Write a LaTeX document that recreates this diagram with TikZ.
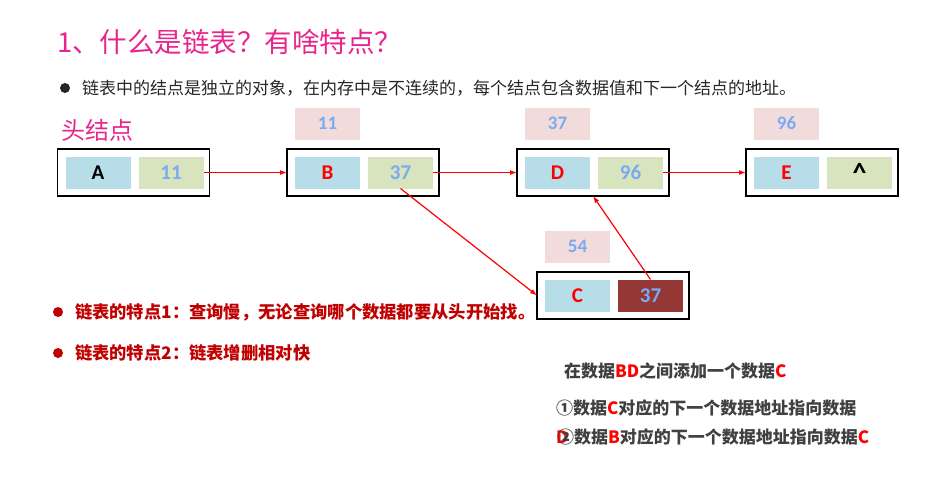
\documentclass[tikz,border=0pt]{standalone}
\usepackage{fontspec}
\setmainfont{Noto Sans CJK SC}
\newfontfamily\cellfont{Carlito}
\usetikzlibrary{arrows.meta,positioning}
\definecolor{titlepink}{HTML}{E8258C}
\definecolor{ink}{HTML}{262626}
\definecolor{grayink}{HTML}{404040}
\definecolor{darkred}{HTML}{C00000}
\definecolor{linkred}{HTML}{FF0000}
\definecolor{datablue}{HTML}{B7DDE8}
\definecolor{nextgreen}{HTML}{D7E4BD}
\definecolor{tagpink}{HTML}{F2DCDB}
\definecolor{changed}{HTML}{953735}
\definecolor{numblue}{HTML}{7AAAF2}
\tikzset{
  >={Latex[length=7pt,width=5pt]},
  every node/.style={inner sep=0pt,outer sep=0pt},
  nodebox/.style={draw=black,line width=1.8pt,minimum width=152pt,minimum height=47pt},
  cell/.style={minimum width=65pt,minimum height=32pt,font=\cellfont\bfseries\fontsize{21pt}{21pt}\selectfont},
  datacell/.style={cell,fill=datablue,text=linkred},
  nextcell/.style={cell,fill=nextgreen,text=numblue},
  tagbox/.style={cell,fill=tagpink,text=numblue,font=\cellfont\bfseries\fontsize{19pt}{19pt}\selectfont},
  link/.style={->,draw=linkred,line width=1.2pt},
  dot/.style={circle,minimum size=10pt},
  titletext/.style={anchor=west,text=titlepink,font=\fontsize{27.5pt}{30pt}\selectfont},
  bodytext/.style={anchor=west,text=ink,font=\fontsize{17pt}{20pt}\selectfont},
  redtext/.style={anchor=west,text=darkred,font=\bfseries\fontsize{17.3pt}{20pt}\selectfont},
  steptext/.style={anchor=west,text=grayink,font=\bfseries\fontsize{17pt}{20pt}\selectfont},
}
\newcommand{\hl}[1]{\textcolor{linkred}{#1}}

\begin{document}
\begin{tikzpicture}[x=1pt,y=-1pt]
\useasboundingbox (0,0) rectangle (931,483);

\node[titletext] (title) at (57,42) {1、什么是链表？有啥特点？};
\node[dot,fill=ink] (b0) at (65,88) {};
\node[bodytext] (intro) at (82,88) {链表中的结点是独立的对象，在内存中是不连续的，每个结点包含数据值和下一个结点的地址。};
\node[titletext,font=\fontsize{24pt}{26pt}\selectfont] (head) at (61,130) {头结点};

\node[nodebox] (nA) at (133.5,172.5) {};
\node[datacell,text=black,right=8pt of nA.west] (dA) {A};
\node[nextcell,right=8pt of dA] (pA) {11};

\node[nodebox] (nB) at (363,172.5) {};
\node[datacell,right=8pt of nB.west] (dB) {B};
\node[nextcell,right=8pt of dB] (pB) {37};
\node[tagbox,above=17pt of dB] (tB) {11};

\node[nodebox] (nD) at (593,172.5) {};
\node[datacell,right=8pt of nD.west] (dD) {D};
\node[nextcell,right=8pt of dD] (pD) {96};
\node[tagbox,above=17pt of dD] (tD) {37};

\node[nodebox] (nE) at (822,172.5) {};
\node[datacell,right=8pt of nE.west] (dE) {E};
\node[nextcell,text=black,font=\cellfont\bfseries\fontsize{28pt}{28pt}\selectfont,right=8pt of dE] (pE) {\raisebox{-4pt}{\textasciicircum}};
\node[tagbox,above=17pt of dE] (tE) {96};

\node[nodebox] (nC) at (613,295.5) {};
\node[datacell,right=8pt of nC.west] (dC) {C};
\node[nextcell,fill=changed,right=8pt of dC] (pC) {37};
\node[tagbox,above=17pt of dC] (tC) {54};

\draw[link] (pA.east) -- (nB.west);
\draw[link] (pB.east) -- (nD.west);
\draw[link] (pD.east) -- (nE.west);
\draw[link] (pB.south) -- (nC.west);
\draw[link] (pC.north) -- (nD.south);

\node[dot,fill=darkred] (b1) at (58,312) {};
\node[redtext] (slow) at (75,312) {链表的特点1：查询慢，无论查询哪个数据都要从头开始找。};
\node[dot,fill=darkred] (b2) at (58,353) {};
\node[redtext] (fast) at (75,353) {链表的特点2：链表增删相对快};

\node[steptext] (task) at (564,371) {在数据\hl{BD}之间添加一个数据\hl{C}};
\node[steptext] (step1) at (556,408) {①数据\hl{C}对应的下一个数据地址指向数据};
\node[steptext,text=linkred] (wrapD) at (556,437) {D};
\node[steptext] (step2) at (557,437) {②数据\hl{B}对应的下一个数据地址指向数据\hl{C}};
\end{tikzpicture}
\end{document}
